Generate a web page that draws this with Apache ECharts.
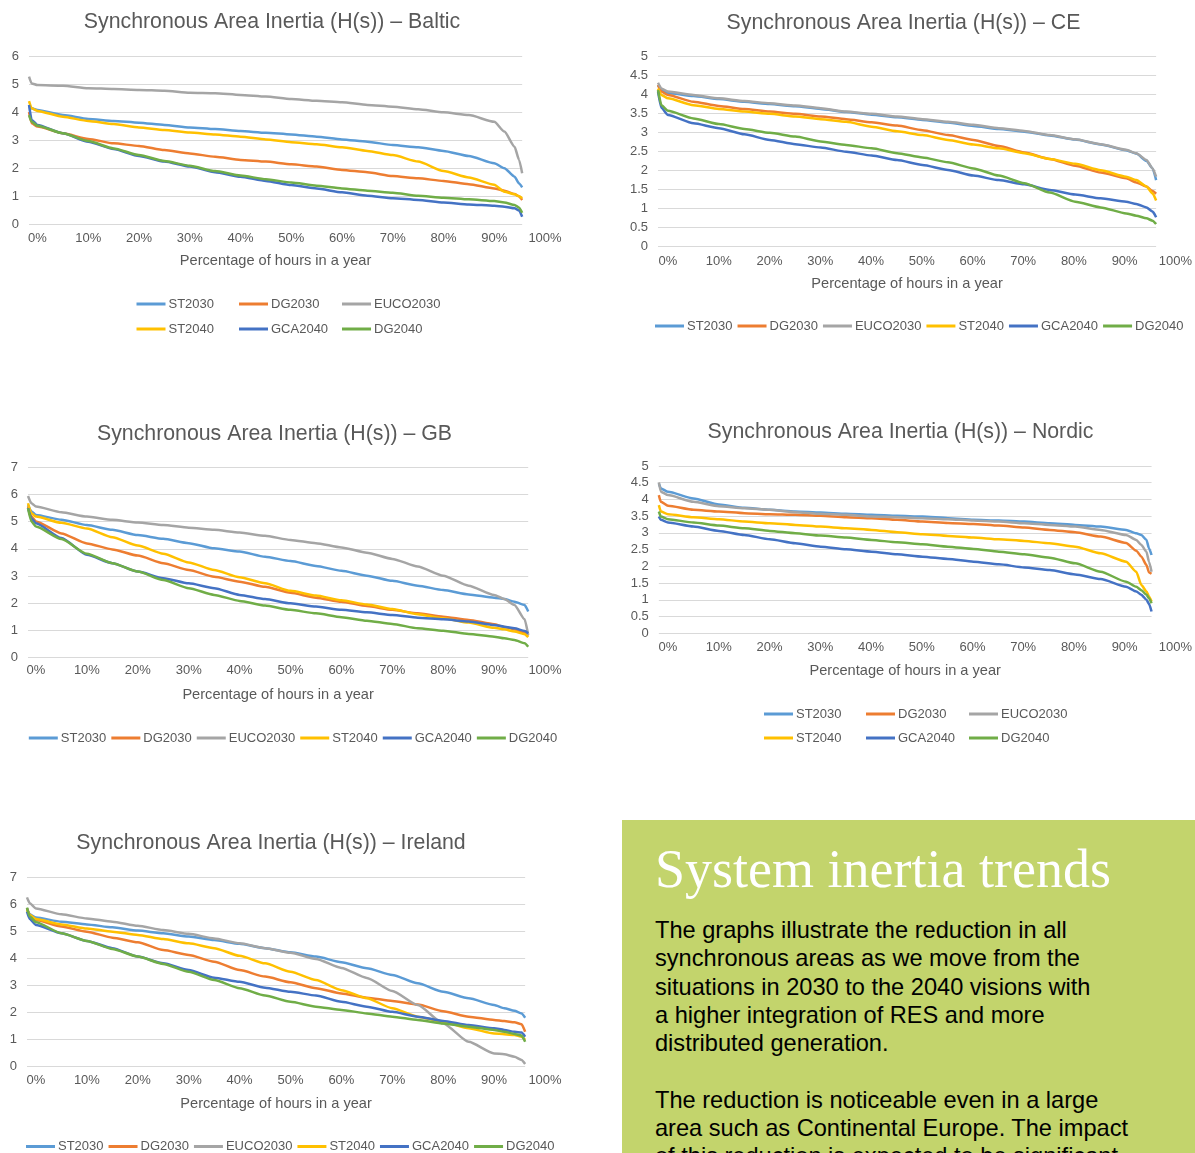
<!DOCTYPE html>
<html><head><meta charset="utf-8">
<script src="https://cdn.jsdelivr.net/npm/echarts@6/dist/echarts.min.js"></script>
<style>
html,body{margin:0;padding:0;background:#fff;width:1195px;height:1153px;overflow:hidden;}
#chart{position:absolute;left:0;top:0;width:1195px;height:1153px;}
#box{position:absolute;left:622px;top:820px;width:573px;height:333px;background:#C3D46C;overflow:hidden;}
#boxTitle{position:absolute;left:33px;top:19px;font-family:"Liberation Serif",serif;font-size:54px;line-height:60px;color:#fff;white-space:nowrap;}
#boxText{position:absolute;left:33px;top:96px;font-family:"Liberation Sans",Arial,sans-serif;font-size:23.6px;line-height:28.3px;color:#000;white-space:nowrap;}
</style></head><body>
<div id="chart"></div>
<div id="box"><div id="boxTitle">System inertia trends</div><div id="boxText">The graphs illustrate the reduction in all<br>synchronous areas as we move from the<br>situations in 2030 to the 2040 visions with<br>a higher integration of RES and more<br>distributed generation.<br><br>The reduction is noticeable even in a large<br>area such as Continental Europe. The impact<br>of this reduction is expected to be significant</div></div>
<script>
// ---- data ----
const seriesNames = ['ST2030','DG2030','EUCO2030','ST2040','GCA2040','DG2040'];
const xTickValues = [0,10,20,30,40,50,60,70,80,90,100];

const balticX = [-1.67,-1.15,0,5,10,15,20,25,30,35,40,45,50,55,60,65,70,75,80,85,90,92,94,94.9,95.5];
const balticST2030 = [4.25,4.13,4.07,3.89,3.75,3.68,3.62,3.54,3.45,3.39,3.32,3.26,3.20,3.12,3.02,2.94,2.82,2.74,2.61,2.43,2.17,1.99,1.69,1.45,1.31];
const balticDG2030 = [4.00,3.60,3.48,3.24,3.04,2.88,2.79,2.64,2.52,2.40,2.29,2.23,2.13,2.05,1.93,1.85,1.71,1.63,1.54,1.42,1.27,1.19,1.07,0.98,0.86];
const balticEUCO2030 = [5.26,5.02,4.96,4.94,4.85,4.82,4.79,4.76,4.69,4.67,4.61,4.55,4.46,4.40,4.35,4.25,4.19,4.10,3.99,3.89,3.65,3.30,2.76,2.29,1.81];
const balticST2040 = [4.39,4.13,4.04,3.83,3.68,3.57,3.45,3.36,3.27,3.20,3.12,3.02,2.92,2.85,2.74,2.61,2.46,2.23,1.89,1.66,1.40,1.15,1.06,0.99,0.92];
const balticGCA2040 = [4.25,3.71,3.54,3.24,2.94,2.68,2.43,2.23,2.05,1.85,1.69,1.54,1.39,1.27,1.13,1.01,0.92,0.86,0.77,0.70,0.65,0.62,0.56,0.48,0.26];
const balticDG2040 = [3.89,3.65,3.51,3.24,2.96,2.70,2.46,2.25,2.08,1.89,1.73,1.60,1.48,1.37,1.27,1.19,1.12,1.01,0.94,0.88,0.82,0.77,0.68,0.58,0.40];

const ceX = [-1.96,-1.3,0,5,10,15,20,25,30,35,40,45,50,55,60,65,70,75,80,85,90,92,94,95.2,95.9];
const ceST2030 = [4.25,4.12,4.04,3.96,3.88,3.81,3.75,3.69,3.62,3.54,3.47,3.40,3.33,3.26,3.17,3.09,3.02,2.92,2.81,2.68,2.53,2.44,2.25,2.05,1.74];
const ceDG2030 = [4.25,4.08,3.99,3.81,3.70,3.62,3.55,3.49,3.42,3.35,3.27,3.18,3.06,2.93,2.80,2.64,2.47,2.30,2.12,1.94,1.79,1.68,1.57,1.45,1.38];
const ceEUCO2030 = [4.31,4.16,4.08,3.99,3.90,3.83,3.77,3.71,3.64,3.55,3.49,3.42,3.35,3.28,3.20,3.11,3.04,2.93,2.82,2.69,2.54,2.45,2.27,2.05,1.83];
const ceST2040 = [4.16,3.99,3.90,3.72,3.62,3.55,3.49,3.42,3.35,3.28,3.15,3.03,2.93,2.80,2.68,2.58,2.45,2.30,2.17,2.00,1.83,1.74,1.57,1.39,1.20];
const ceGCA2040 = [4.08,3.65,3.46,3.24,3.11,2.95,2.80,2.69,2.60,2.49,2.39,2.27,2.14,2.01,1.86,1.74,1.63,1.48,1.36,1.26,1.17,1.11,1.02,0.91,0.76];
const ceDG2040 = [4.12,3.72,3.57,3.37,3.22,3.09,2.99,2.89,2.76,2.67,2.58,2.45,2.34,2.21,2.05,1.86,1.66,1.41,1.17,1.02,0.86,0.80,0.73,0.67,0.58];

const gbX = [-1.57,-0.9,0,5,10,15,20,25,30,35,40,45,50,55,60,65,70,75,80,85,90,92,94,96,96.7];
const gbST2030 = [5.62,5.38,5.25,5.07,4.88,4.70,4.51,4.37,4.21,4.02,3.90,3.71,3.55,3.37,3.19,3.01,2.82,2.64,2.48,2.32,2.20,2.15,2.05,1.93,1.69];
const gbDG2030 = [5.56,5.19,5.01,4.57,4.20,3.98,3.75,3.47,3.22,2.97,2.79,2.60,2.38,2.20,2.05,1.89,1.75,1.62,1.50,1.38,1.22,1.12,1.03,0.91,0.79];
const gbEUCO2030 = [5.95,5.68,5.56,5.35,5.19,5.07,4.97,4.88,4.78,4.70,4.60,4.48,4.33,4.21,4.05,3.86,3.63,3.35,3.01,2.64,2.30,2.15,1.93,1.40,0.82];
const gbST2040 = [5.68,5.31,5.19,4.96,4.75,4.43,4.12,3.82,3.50,3.22,2.95,2.73,2.45,2.28,2.10,1.95,1.78,1.59,1.44,1.28,1.09,1.03,0.95,0.85,0.74];
const gbGCA2040 = [5.50,5.13,4.94,4.40,3.78,3.47,3.16,2.92,2.73,2.55,2.30,2.15,1.99,1.87,1.75,1.66,1.56,1.46,1.40,1.32,1.19,1.13,1.07,0.97,0.89];
const gbDG2040 = [5.50,5.01,4.82,4.36,3.82,3.47,3.16,2.85,2.55,2.30,2.08,1.91,1.75,1.62,1.48,1.35,1.23,1.07,0.98,0.86,0.76,0.70,0.64,0.52,0.39];

const nordicX = [-1.8,-1.4,0,5,10,15,20,25,30,35,40,45,50,55,60,65,70,75,80,85,90,92,93,94,94.5,95];
const nordicST2030 = [4.48,4.33,4.23,4.03,3.85,3.75,3.69,3.64,3.61,3.57,3.54,3.51,3.49,3.44,3.39,3.37,3.34,3.29,3.24,3.19,3.09,2.99,2.94,2.79,2.54,2.34];
const nordicDG2030 = [4.13,3.93,3.81,3.69,3.64,3.59,3.56,3.54,3.51,3.47,3.44,3.39,3.34,3.30,3.27,3.22,3.16,3.09,3.02,2.89,2.70,2.47,2.29,2.04,1.82,1.78];
const nordicEUCO2030 = [4.51,4.23,4.13,3.93,3.80,3.74,3.69,3.62,3.57,3.54,3.49,3.47,3.44,3.41,3.37,3.34,3.29,3.24,3.19,3.09,2.94,2.79,2.64,2.44,2.14,1.84];
const nordicST2040 = [3.83,3.64,3.56,3.47,3.41,3.34,3.29,3.24,3.19,3.14,3.09,3.02,2.96,2.91,2.86,2.81,2.76,2.69,2.59,2.39,2.14,1.84,1.44,1.25,1.10,0.95];
const nordicGCA2040 = [3.49,3.39,3.31,3.19,3.06,2.94,2.81,2.69,2.59,2.51,2.44,2.36,2.29,2.22,2.14,2.06,1.97,1.89,1.76,1.62,1.39,1.25,1.15,1.00,0.88,0.65];
const nordicDG2040 = [3.64,3.49,3.41,3.31,3.22,3.14,3.06,2.99,2.92,2.86,2.79,2.72,2.66,2.59,2.52,2.44,2.36,2.26,2.09,1.84,1.54,1.39,1.29,1.15,1.05,0.90];

const irelandX = [-1.77,-1.23,0,5,10,15,20,25,30,35,40,45,50,55,60,65,70,75,80,85,90,92,94,95.4,96.1];
const irelandST2030 = [5.85,5.63,5.51,5.36,5.26,5.15,5.03,4.93,4.81,4.68,4.54,4.38,4.23,4.07,3.86,3.64,3.39,3.08,2.77,2.53,2.28,2.16,2.07,1.97,1.81];
const irelandDG2030 = [5.85,5.61,5.42,5.18,4.99,4.77,4.60,4.31,4.13,3.88,3.57,3.33,3.12,2.90,2.71,2.55,2.43,2.30,2.05,1.85,1.73,1.69,1.64,1.57,1.29];
const irelandEUCO2030 = [6.26,6.04,5.85,5.63,5.48,5.36,5.21,5.05,4.91,4.74,4.56,4.38,4.21,3.98,3.65,3.28,2.80,2.28,1.60,0.92,0.49,0.46,0.37,0.25,0.10];
const irelandST2040 = [5.79,5.61,5.46,5.26,5.11,4.99,4.87,4.72,4.56,4.38,4.10,3.82,3.51,3.20,2.83,2.53,2.16,1.85,1.66,1.42,1.23,1.20,1.17,1.11,0.99];
const irelandGCA2040 = [5.73,5.46,5.24,4.93,4.65,4.38,4.07,3.82,3.57,3.29,3.14,2.92,2.77,2.63,2.40,2.22,2.03,1.85,1.69,1.54,1.42,1.36,1.29,1.26,1.11];
const irelandDG2040 = [5.88,5.55,5.34,4.93,4.65,4.35,4.07,3.80,3.51,3.20,2.90,2.63,2.40,2.22,2.10,1.97,1.85,1.73,1.60,1.48,1.36,1.29,1.21,1.15,0.92];

// ---- styles / layout ----
const COLORS = ['#5B9BD5','#ED7D31','#A5A5A5','#FFC000','#4472C4','#70AD47'];
const FONT = '"Liberation Sans", Arial, sans-serif';
const TXT = '#595959';

const charts = [
  {title:'Synchronous Area Inertia (H(s)) – Baltic', x:balticX,
   ys:[balticST2030,balticDG2030,balticEUCO2030,balticST2040,balticGCA2040,balticDG2040], yMax:6, yStep:1,
   L:{x0:37.5, x100:545, top:56, bottom:224, titleX:272, titleY:22.5, nameGap:29, labelMargin:8,
      legendCols:[136.5,239,342], legendRows:[304,329]}},
  {title:'Synchronous Area Inertia (H(s)) – CE', x:ceX,
   ys:[ceST2030,ceDG2030,ceEUCO2030,ceST2040,ceGCA2040,ceDG2040], yMax:5, yStep:0.5,
   L:{x0:668, x100:1177, top:56.7, bottom:246, titleX:903.5, titleY:23.5, nameGap:30, labelMargin:8.5,
      legendLeft:655, legendRow:326}},
  {title:'Synchronous Area Inertia (H(s)) – GB', x:gbX,
   ys:[gbST2030,gbDG2030,gbEUCO2030,gbST2040,gbGCA2040,gbDG2040], yMax:7, yStep:1,
   L:{x0:36, x100:545, top:467.5, bottom:657.3, titleX:274.5, titleY:434.5, nameGap:30, labelMargin:6.5,
      legendLeft:28.8, legendRow:738}},
  {title:'Synchronous Area Inertia (H(s)) – Nordic', x:nordicX,
   ys:[nordicST2030,nordicDG2030,nordicEUCO2030,nordicST2040,nordicGCA2040,nordicDG2040], yMax:5, yStep:0.5,
   L:{x0:668, x100:1177, top:466, bottom:633.3, titleX:900.5, titleY:432.5, nameGap:30, labelMargin:8,
      legendCols:[764,866,969], legendRows:[714,738]}},
  {title:'Synchronous Area Inertia (H(s)) – Ireland', x:irelandX,
   ys:[irelandST2030,irelandDG2030,irelandEUCO2030,irelandST2040,irelandGCA2040,irelandDG2040], yMax:7, yStep:1,
   L:{x0:36, x100:545, top:877.3, bottom:1066.7, titleX:271, titleY:843.5, nameGap:29, labelMargin:7.5,
      legendLeft:26, legendRow:1146.5}}
];

const option = {animation:false, title:[], grid:[], xAxis:[], yAxis:[], legend:[], series:[]};
const legendText = {fontFamily:FONT, fontSize:13, color:TXT, lineHeight:15, padding:[0,0,0,-2]};

charts.forEach((c, i) => {
  const L = c.L;
  const pxPer = (L.x100 - L.x0) / 100;
  const vmin = c.x[0], vmax = c.x[c.x.length - 1];
  const plotL = L.x0 + vmin * pxPer, plotR = L.x0 + vmax * pxPer;
  const h = L.bottom - L.top;

  option.title.push({text:c.title, left:L.titleX, top:L.titleY - 12, textAlign:'center', padding:0,
    textStyle:{fontFamily:FONT, fontSize:21.3, fontWeight:'normal', color:TXT, lineHeight:24}});

  option.grid.push({left:plotL, top:L.top, width:plotR - plotL, height:h});
  option.grid.push({left:L.x0, top:L.top, width:L.x100 - L.x0, height:h});

  option.xAxis.push({type:'value', gridIndex:2*i, min:vmin, max:vmax,
    name:'Percentage of hours in a year', nameLocation:'middle', nameGap:L.nameGap,
    nameTextStyle:{fontFamily:FONT, fontSize:14.6, color:TXT, lineHeight:16},
    axisLine:{show:false}, axisTick:{show:false}, axisLabel:{show:false}, splitLine:{show:false}});
  option.xAxis.push({type:'value', gridIndex:2*i+1, min:xTickValues[0], max:xTickValues[xTickValues.length-1], interval:10,
    axisLine:{show:false}, axisTick:{show:false}, splitLine:{show:false},
    axisLabel:{formatter:'{value}%', margin:L.labelMargin, fontFamily:FONT, fontSize:13, color:TXT}});

  option.yAxis.push({type:'value', gridIndex:2*i, min:0, max:c.yMax, interval:c.yStep,
    axisLine:{show:false}, axisTick:{show:false},
    axisLabel:{margin:10, fontFamily:FONT, fontSize:13, color:TXT},
    splitLine:{lineStyle:{color:'#D9D9D9', width:1}}});
  option.yAxis.push({type:'value', gridIndex:2*i+1, min:0, max:1, show:false});

  seriesNames.forEach((n, k) => {
    option.series.push({type:'line', name:n, xAxisIndex:2*i, yAxisIndex:2*i,
      data:c.x.map((v, j) => [v, c.ys[k][j]]),
      symbol:'none', showSymbol:false, smooth:0.2, smoothMonotone:'x',
      lineStyle:{width:2.5, color:COLORS[k]}, itemStyle:{color:COLORS[k]}});
  });

  if (L.legendCols) {
    const gap = (L.legendRows[1] - L.legendRows[0]) - 15;
    L.legendCols.forEach((cx, k) => {
      option.legend.push({orient:'vertical', left:cx, top:L.legendRows[0] - 7.5, padding:0,
        itemWidth:29, itemHeight:3, itemGap:gap, icon:'rect',
        data:[seriesNames[k], seriesNames[k+3]], textStyle:legendText});
    });
  } else {
    option.legend.push({orient:'horizontal', left:L.legendLeft, top:L.legendRow - 7.5, padding:0,
      itemWidth:29, itemHeight:3, itemGap:5, icon:'rect',
      data:seriesNames.slice(), textStyle:legendText});
  }
});

const chart = echarts.init(document.getElementById('chart'), null, {renderer:'canvas'});
chart.setOption(option);
</script>
</body></html>
